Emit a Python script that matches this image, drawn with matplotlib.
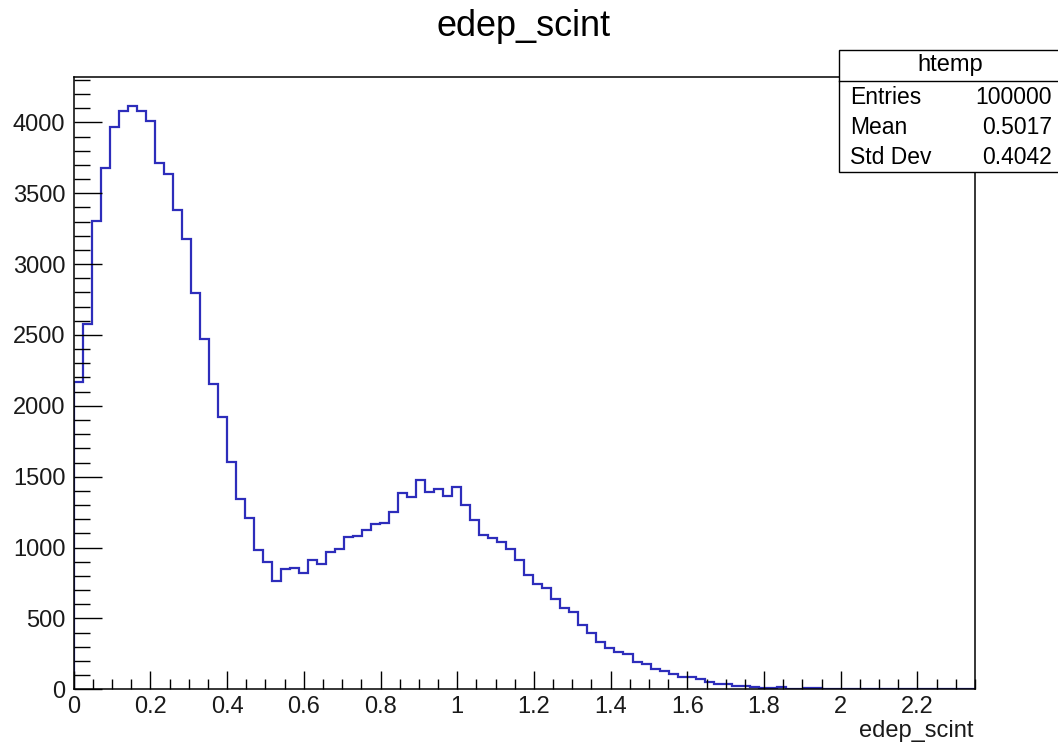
import numpy as np
import matplotlib
matplotlib.use("Agg")
import matplotlib.pyplot as plt
from matplotlib.patches import Rectangle
from matplotlib.lines import Line2D
from matplotlib.ticker import MultipleLocator

plt.rcParams['font.family'] = ['Liberation Sans', 'DejaVu Sans']

# ---- data ----
x_min, x_max, n_bins = 0.0, 2.35, 100
counts = [
    2166, 2575, 3304, 3680, 3965, 4080, 4115, 4078, 4009, 3715,
    3635, 3384, 3177, 2794, 2473, 2154, 1923, 1603, 1345, 1206,
    980, 898, 762, 846, 855, 820, 912, 884, 966, 990,
    1072, 1082, 1124, 1165, 1175, 1253, 1383, 1354, 1477, 1390,
    1411, 1366, 1425, 1298, 1194, 1091, 1070, 1037, 989, 910,
    806, 741, 718, 637, 571, 543, 454, 395, 336, 289,
    261, 247, 190, 178, 142, 128, 107, 90, 86, 70,
    50, 40, 35, 26, 23, 19, 9, 12, 16, 5,
    1, 9, 9, 0, 0, 0, 0, 0, 0, 0,
    0, 0, 0, 0, 0, 0, 0, 0, 0, 0,
]
title = "edep_scint"
xlabel = "edep_scint"
stats_name = "htemp"
stats_labels = ["Entries", "Mean", "Std Dev"]
stats_values = ["100000", "0.5017", "0.4042"]
y_max = 4322

edges = np.linspace(x_min, x_max, n_bins + 1)

W, H = 1058, 746
fig = plt.figure(figsize=(W / 100, H / 100), dpi=100)
L, R, T, B = 73.7, 975, 76.7, 689.3
ax = fig.add_axes([L / W, 1 - B / H, (R - L) / W, (B - T) / H])

ax.stairs(counts, edges, color='#2d2dbb', linewidth=1.6, zorder=1)
ax.set_xlim(x_min, x_max)
ax.set_ylim(0, y_max)

for s in ax.spines.values():
    s.set_linewidth(1.1)
    s.set_color('black')
    s.set_zorder(3)

ax.xaxis.set_major_locator(MultipleLocator(0.2))
ax.xaxis.set_minor_locator(MultipleLocator(0.05))
ax.yaxis.set_major_locator(MultipleLocator(500))
ax.yaxis.set_minor_locator(MultipleLocator(100))

ax.tick_params(axis='x', which='major', direction='in', length=13, width=1.0,
               labelsize=17, pad=5, top=False)
ax.tick_params(axis='x', which='minor', direction='in', length=7.2, width=1.0, top=False)
ax.tick_params(axis='y', which='major', direction='in', length=20, width=1.0,
               labelsize=17, pad=6, right=False)
ax.tick_params(axis='y', which='minor', direction='in', length=11.3, width=1.0, right=False)

def fmt_x(v, pos):
    s = f"{v:.1f}"
    if s.endswith(".0"):
        s = s[:-2]
    return s
ax.xaxis.set_major_formatter(plt.FuncFormatter(fmt_x))
for lab in ax.get_xticklabels() + ax.get_yticklabels():
    lab.set_color('#1a1a1a')

# title
fig.text(523.5 / W, 1 - 27 / H, title, ha='center', va='center', fontsize=26, color='black')
# x label
fig.text(974 / W, 1 - 731 / H, xlabel, ha='right', va='center', fontsize=17, color='#1a1a1a')

# stats box
bx0, bx1, by0, by1, hline = 839, 1062, 50, 172, 80.7
fig.patches.append(Rectangle((bx0 / W, 1 - by1 / H), (bx1 - bx0) / W, (by1 - by0) / H,
                             transform=fig.transFigure, facecolor='white',
                             edgecolor='black', linewidth=1.0, zorder=5))
fig.lines.append(Line2D([bx0 / W, bx1 / W], [1 - hline / H, 1 - hline / H],
                        transform=fig.transFigure, color='black', linewidth=1.0, zorder=6))
fig.text(950 / W, 1 - 65 / H, stats_name, ha='center', va='center', fontsize=17,
         color='black', zorder=7)
row_y = [97, 127, 157]
for yy, lab, val in zip(row_y, stats_labels, stats_values):
    fig.text(850.5 / W, 1 - yy / H, lab, ha='left', va='center', fontsize=16.5,
             color='black', zorder=7)
    fig.text(1052 / W, 1 - yy / H, val, ha='right', va='center', fontsize=16.5,
             color='black', zorder=7)

fig.savefig("out.png", dpi=100)
